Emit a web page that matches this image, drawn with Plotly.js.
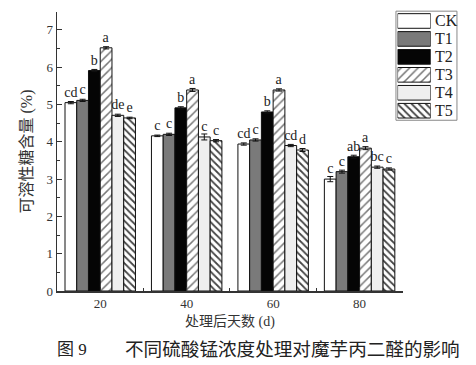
<!DOCTYPE html>
<html><head><meta charset="utf-8">
<script src="https://cdn.plot.ly/plotly-3.0.1.min.js"></script>
<style>body{margin:0;background:#fff}#c{width:476px;height:365px}</style>
</head><body><div id="c"></div>
<script>
var days = [20, 40, 60, 80];
var names = ['CK', 'T1', 'T2', 'T3', 'T4', 'T5'];
var CK = [5.05, 4.16, 3.94, 3.00];
var T1 = [5.11, 4.20, 4.05, 3.20];
var T2 = [5.91, 4.91, 4.80, 3.60];
var T3 = [6.52, 5.39, 5.39, 3.83];
var T4 = [4.71, 4.13, 3.90, 3.32];
var T5 = [4.64, 4.03, 3.78, 3.27];
var errCK = [0.03, 0.02, 0.03, 0.07];
var errT1 = [0.03, 0.03, 0.03, 0.04];
var errT2 = [0.03, 0.03, 0.03, 0.04];
var errT3 = [0.03, 0.04, 0.03, 0.04];
var errT4 = [0.03, 0.08, 0.03, 0.03];
var errT5 = [0.02, 0.03, 0.04, 0.03];
var lettersCK = ['cd', 'c', 'cd', 'c'];
var lettersT1 = ['c', 'c', 'c', 'c'];
var lettersT2 = ['b', 'b', 'b', 'ab'];
var lettersT3 = ['a', 'a', 'a', 'a'];
var lettersT4 = ['de', 'c', 'cd', 'bc'];
var lettersT5 = ['e', 'c', 'd', 'c'];

var series = [CK, T1, T2, T3, T4, T5];
var errs = [errCK, errT1, errT2, errT3, errT4, errT5];
var letters = [lettersCK, lettersT1, lettersT2, lettersT3, lettersT4, lettersT5];
var styles = [
  {color: '#ffffff'},
  {color: '#7a7a7a'},
  {color: '#050505'},
  {color: '#ffffff', pattern: {shape: '/', fgcolor: '#777', bgcolor: '#ffffff', size: 6, solidity: 0.25}},
  {color: '#efefef'},
  {color: '#ffffff', pattern: {shape: '\\', fgcolor: '#444', bgcolor: '#ffffff', size: 5, solidity: 0.35}}
];
var serif = 'Liberation Serif, Times New Roman, serif';
var cjk = 'Liberation Serif, Noto Sans CJK SC, serif';

var traces = [];
for (var i = 0; i < names.length; i++) {
  traces.push({
    type: 'bar', x: days, y: series[i], name: names[i],
    xaxis: 'x', yaxis: 'y',
    marker: Object.assign({line: {color: '#111', width: 1}}, styles[i]),
    error_y: {type: 'data', array: errs[i], color: '#111', thickness: 1, width: 3},
    text: letters[i], textposition: 'outside', constraintext: 'none', cliponaxis: false,
    textfont: {family: serif, size: 14, color: '#222'},
    showlegend: false, hoverinfo: 'skip'
  });
}
// legend swatches as a tiny horizontal bar subplot
for (var j = 0; j < names.length; j++) {
  traces.push({
    type: 'bar', orientation: 'h', x: [1], y: [names[j]], name: names[j],
    xaxis: 'x2', yaxis: 'y2',
    marker: Object.assign({line: {color: '#111', width: 1}}, styles[j]),
    showlegend: false, hoverinfo: 'skip'
  });
}

var ann = [];
for (var k = 0; k < names.length; k++) {
  ann.push({xref: 'paper', yref: 'y2', x: 0.93, y: names[k], text: names[k], showarrow: false,
    xanchor: 'left', yanchor: 'middle', font: {family: serif, size: 16, color: '#222'}});
}
ann.push({xref: 'paper', yref: 'paper', x: 0.428, y: -0.111, text: '处理后天数 (d)', showarrow: false,
  xanchor: 'center', yanchor: 'middle', font: {family: cjk, size: 14, color: '#333'}});
ann.push({xref: 'paper', yref: 'paper', x: -0.005, y: -0.208, text: '图 9', showarrow: false,
  xanchor: 'left', yanchor: 'middle', font: {family: cjk, size: 17, color: '#222'}});
ann.push({xref: 'paper', yref: 'paper', x: 0.163, y: -0.208, text: '不同硫酸锰浓度处理对魔芋丙二醛的影响', showarrow: false,
  xanchor: 'left', yanchor: 'middle', font: {family: cjk, size: 18.6, color: '#222'}});

var layout = {
  width: 476, height: 365,
  margin: {l: 57, r: 15, t: 12, b: 74},
  paper_bgcolor: '#fff', plot_bgcolor: 'rgba(0,0,0,0)',
  barmode: 'group', bargap: 0.185, bargroupgap: 0,
  showlegend: false,
  xaxis: {domain: [0, 0.856], range: [10, 90], tickvals: days, ticktext: days.map(String),
    ticks: 'inside', ticklen: 4, tickcolor: '#333', showline: true, linecolor: '#333', linewidth: 1.5,
    showgrid: false, zeroline: false, tickfont: {family: serif, size: 13, color: '#333'},
    minor: {tickvals: [30, 50, 70], ticks: 'inside', ticklen: 3, tickcolor: '#333'}},
  yaxis: {domain: [0, 1], range: [0, 7.48], dtick: 1, ticks: 'inside', ticklen: 5, tickcolor: '#333',
    showline: true, linecolor: '#333', linewidth: 1.5, showgrid: false, zeroline: false,
    tickfont: {family: serif, size: 13, color: '#333'},
    title: {text: '可溶性糖含量 (%)', font: {family: cjk, size: 16, color: '#333'}, standoff: 10},
    minor: {dtick: 0.5, ticks: 'inside', ticklen: 3, tickcolor: '#333'}},
  xaxis2: {domain: [0.843, 0.925], range: [0, 1], anchor: 'y2', visible: false, fixedrange: true},
  yaxis2: {domain: [0.614, 1], range: [5.5, -0.5], anchor: 'x2', type: 'category', visible: false, fixedrange: true},
  annotations: ann,
  shapes: [{type: 'rect', xref: 'paper', yref: 'paper', x0: 0.839, x1: 0.99, y0: 0.612, y1: 1.003,
    line: {color: '#888', width: 1}, fillcolor: 'rgba(0,0,0,0)'}]
};
Plotly.newPlot('c', traces, layout, {displayModeBar: false, staticPlot: true});
</script></body></html>
